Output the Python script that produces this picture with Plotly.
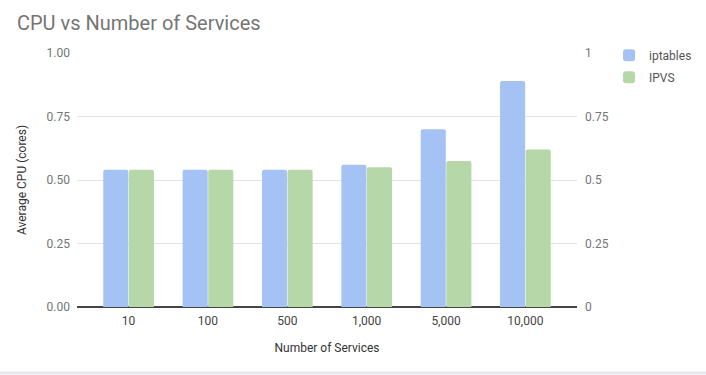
import plotly.graph_objects as go

categories = ["10", "100", "500", "1,000", "5,000", "10,000"]
iptables = [0.54, 0.54, 0.54, 0.56, 0.70, 0.89]
ipvs = [0.54, 0.54, 0.54, 0.55, 0.575, 0.62]
left_ticks = [0, 0.25, 0.5, 0.75, 1.0]
left_labels = ["0.00", "0.25", "0.50", "0.75", "1.00"]
right_labels = ["0", "0.25", "0.5", "0.75", "1"]

fig = go.Figure()
fig.add_trace(go.Bar(x=categories, y=iptables, name="iptables", marker_color="#a4c2f4",
                     marker_line_width=0, legendgroup="a"))
fig.add_trace(go.Bar(x=categories, y=ipvs, name="IPVS", marker_color="#b6d7a8",
                     marker_line_width=0, legendgroup="b"))
fig.add_trace(go.Scatter(x=categories, y=ipvs, yaxis="y2", mode="lines", opacity=0,
                         showlegend=False, hoverinfo="skip"))

font = "Roboto, Arial, sans-serif"
fig.update_layout(
    width=706, height=375,
    margin=dict(l=77, r=129, t=53, b=68, autoexpand=False),
    paper_bgcolor="white", plot_bgcolor="white",
    barmode="group", bargap=0.355, bargroupgap=0.02, barcornerradius=2,
    font=dict(family=font, color="#757575", size=12),
    title=dict(text="CPU vs Number of Services", x=0.024, xanchor="left", y=0.94, yanchor="middle",
               font=dict(family=font, size=20, color="#757575")),
    xaxis=dict(range=[-0.65, 5.65], showgrid=False, ticks="", showline=False,
               tickfont=dict(size=12, color="#444"), ticklabelstandoff=5,
               title=dict(text="Number of Services", font=dict(size=12, color="#333"), standoff=16)),
    yaxis=dict(range=[0, 1.0], tickvals=left_ticks, ticktext=left_labels,
               gridcolor="#e2e2e2", gridwidth=1, zeroline=True, zerolinecolor="#444", zerolinewidth=1.5,
               ticks="", tickfont=dict(size=12, color="#757575"), ticklabelstandoff=6,
               title=dict(text="Average CPU (cores)", font=dict(size=12, color="#333"), standoff=17)),
    yaxis2=dict(range=[0, 1.0], tickvals=left_ticks, ticktext=right_labels, overlaying="y",
                side="right", showgrid=False, zeroline=False, ticks="", ticklabelstandoff=7,
                tickfont=dict(size=12, color="#757575")),
    legend=dict(x=1.064, xanchor="left", y=1.048, yanchor="top", font=dict(size=12, color="#555"),
                itemwidth=30, tracegroupgap=3),
    shapes=[dict(type="line", xref="paper", yref="paper", x0=-0.16, x1=1.26, y0=-0.26, y1=-0.26,
                 line=dict(color="#e6e6ee", width=3))],
)
fig.write_html("out.html", config={"displayModeBar": False},
               post_script="document.body.style.margin='0';")
